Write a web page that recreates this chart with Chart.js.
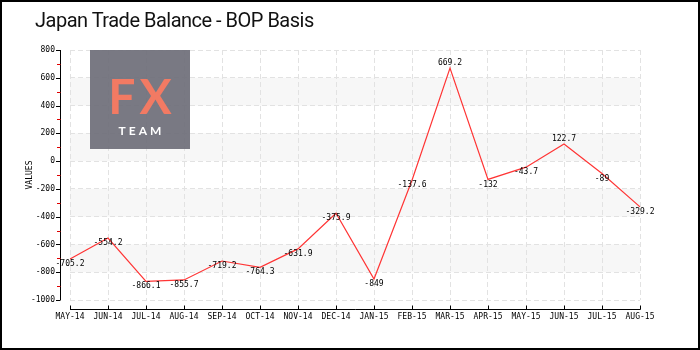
<!DOCTYPE html>
<html>
<head>
<meta charset="utf-8">
<script src="https://cdn.jsdelivr.net/npm/chart.js@4.4.0/dist/chart.umd.min.js"></script>
<style>
  body { margin: 0; background: #fff; }
  .wrap { position: relative; width: 700px; height: 350px; }
  .title {
    position: absolute; left: 35px; top: 10px;
    font: 20px "Roboto", sans-serif; letter-spacing: -0.5px;
    color: #111; line-height: 1;
  }
  .logo {
    position: absolute; left: 90px; top: 50px; width: 100px; height: 99px;
    background: rgba(110, 110, 120, 0.92);
    text-align: center; font-family: "Lato", "Open Sans", sans-serif;
  }
  .logo .fx { color: #f27a63; font-size: 48px; font-weight: 700; line-height: 1; margin-top: 22px; letter-spacing: 4px; padding-left: 4px; }
  .logo .team { color: #fff; font-size: 12px; font-weight: 700; letter-spacing: 3px; padding-left: 3px; margin-top: 3px; }
</style>
</head>
<body>
<div class="wrap">
  <canvas id="chart" width="700" height="350"></canvas>
  <div class="title">Japan Trade Balance - BOP Basis</div>
  <div class="logo"><div class="fx">FX</div><div class="team">TEAM</div></div>
</div>
<script>
  const months = ["MAY-14", "JUN-14", "JUL-14", "AUG-14", "SEP-14", "OCT-14", "NOV-14", "DEC-14",
    "JAN-15", "FEB-15", "MAR-15", "APR-15", "MAY-15", "JUN-15", "JUL-15", "AUG-15"];
  const balance = [-705.2, -554.2, -866.1, -855.7, -719.2, -764.3, -631.9, -375.9,
    -849, -137.6, 669.2, -132, -43.7, 122.7, -89, -329.2];
  const yMin = -1000;
  const yMax = 800;
  const yStep = 200;

  const tickFont = { family: "'DejaVu Sans Mono', monospace", size: 8 };

  // shaded bands, every other grid interval
  const bandsPlugin = {
    id: "bands",
    beforeDraw(chart) {
      const { ctx, chartArea, scales } = chart;
      const y = scales.y;
      ctx.save();
      ctx.fillStyle = "#f7f7f7";
      for (let v = yMax - yStep; v - yStep >= yMin; v -= yStep * 2) {
        const top = y.getPixelForValue(v);
        const bottom = y.getPixelForValue(v - yStep);
        ctx.fillRect(chartArea.left, top, chartArea.right - chartArea.left, bottom - top);
      }
      ctx.restore();
    }
  };

  // offset axes with tick marks, plus frame
  const axesPlugin = {
    id: "axes",
    afterDraw(chart) {
      const { ctx, chartArea, scales } = chart;
      const x = scales.x;
      const y = scales.y;
      const axisX = chartArea.left - 10;
      const axisY = chartArea.bottom + 9.5;
      ctx.save();
      ctx.lineWidth = 1;
      ctx.strokeStyle = "#000";
      ctx.beginPath();
      ctx.moveTo(axisX + 0.5, y.getPixelForValue(yMax));
      ctx.lineTo(axisX + 0.5, y.getPixelForValue(yMin));
      ctx.stroke();
      for (let v = yMin; v <= yMax; v += yStep / 2) {
        const py = Math.round(y.getPixelForValue(v)) + 0.5;
        const major = v % yStep === 0;
        ctx.strokeStyle = major ? "#000" : "#e00000";
        ctx.beginPath();
        ctx.moveTo(axisX - (major ? 4 : 3), py);
        ctx.lineTo(axisX + 0.5, py);
        ctx.stroke();
      }
      ctx.strokeStyle = "#000";
      ctx.beginPath();
      ctx.moveTo(chartArea.left, axisY);
      ctx.lineTo(chartArea.right + 0.5, axisY);
      ctx.stroke();
      months.forEach((m, i) => {
        const px = Math.round(x.getPixelForValue(i)) + 0.5;
        ctx.beginPath();
        ctx.moveTo(px, axisY);
        ctx.lineTo(px, axisY - 4);
        ctx.stroke();
      });
      ctx.lineWidth = 2;
      ctx.strokeRect(1, 1, chart.width - 2, chart.height - 2);
      ctx.restore();
    }
  };

  const valueLabels = {
    id: "valueLabels",
    afterDatasetsDraw(chart) {
      const { ctx } = chart;
      const meta = chart.getDatasetMeta(0);
      ctx.save();
      ctx.font = "8px 'DejaVu Sans Mono', monospace";
      ctx.fillStyle = "#000";
      ctx.textAlign = "center";
      ctx.textBaseline = "middle";
      meta.data.forEach((pt, i) => {
        const v = balance[i];
        ctx.fillText(String(v), pt.x, pt.y + (v >= 0 ? -5 : 5));
      });
      ctx.restore();
    }
  };

  new Chart(document.getElementById("chart"), {
    type: "line",
    data: {
      labels: months,
      datasets: [{
        data: balance,
        borderColor: "#ff3535",
        borderWidth: 1.2,
        pointRadius: 0,
        tension: 0,
        fill: false
      }]
    },
    options: {
      responsive: false,
      animation: false,
      layout: { padding: { left: 20, right: 60, top: 50, bottom: 15 } },
      plugins: { legend: { display: false }, tooltip: { enabled: false } },
      scales: {
        x: {
          offset: false,
          afterFit(s) { s.height = 35; },
          grid: { color: "#e2e2e2", drawTicks: false },
          border: { display: false, dash: [5, 3] },
          ticks: { font: tickFont, color: "#000", padding: 12, maxRotation: 0, autoSkip: false }
        },
        y: {
          min: yMin,
          max: yMax,
          afterFit(s) { s.width = 50; },
          grid: {
            drawTicks: false,
            color: (c) => (c.tick && c.tick.value % yStep === 0 ? "#e2e2e2" : "transparent")
          },
          border: { display: false, dash: [5, 3] },
          ticks: {
            stepSize: yStep / 2,
            font: tickFont,
            color: "#000",
            padding: 15,
            callback: (v) => (v % yStep === 0 ? String(v) : "")
          },
          title: { display: true, text: "VALUES", font: tickFont, color: "#000", padding: { top: 5, bottom: 0 } }
        }
      }
    },
    plugins: [bandsPlugin, axesPlugin, valueLabels]
  });
</script>
</body>
</html>
